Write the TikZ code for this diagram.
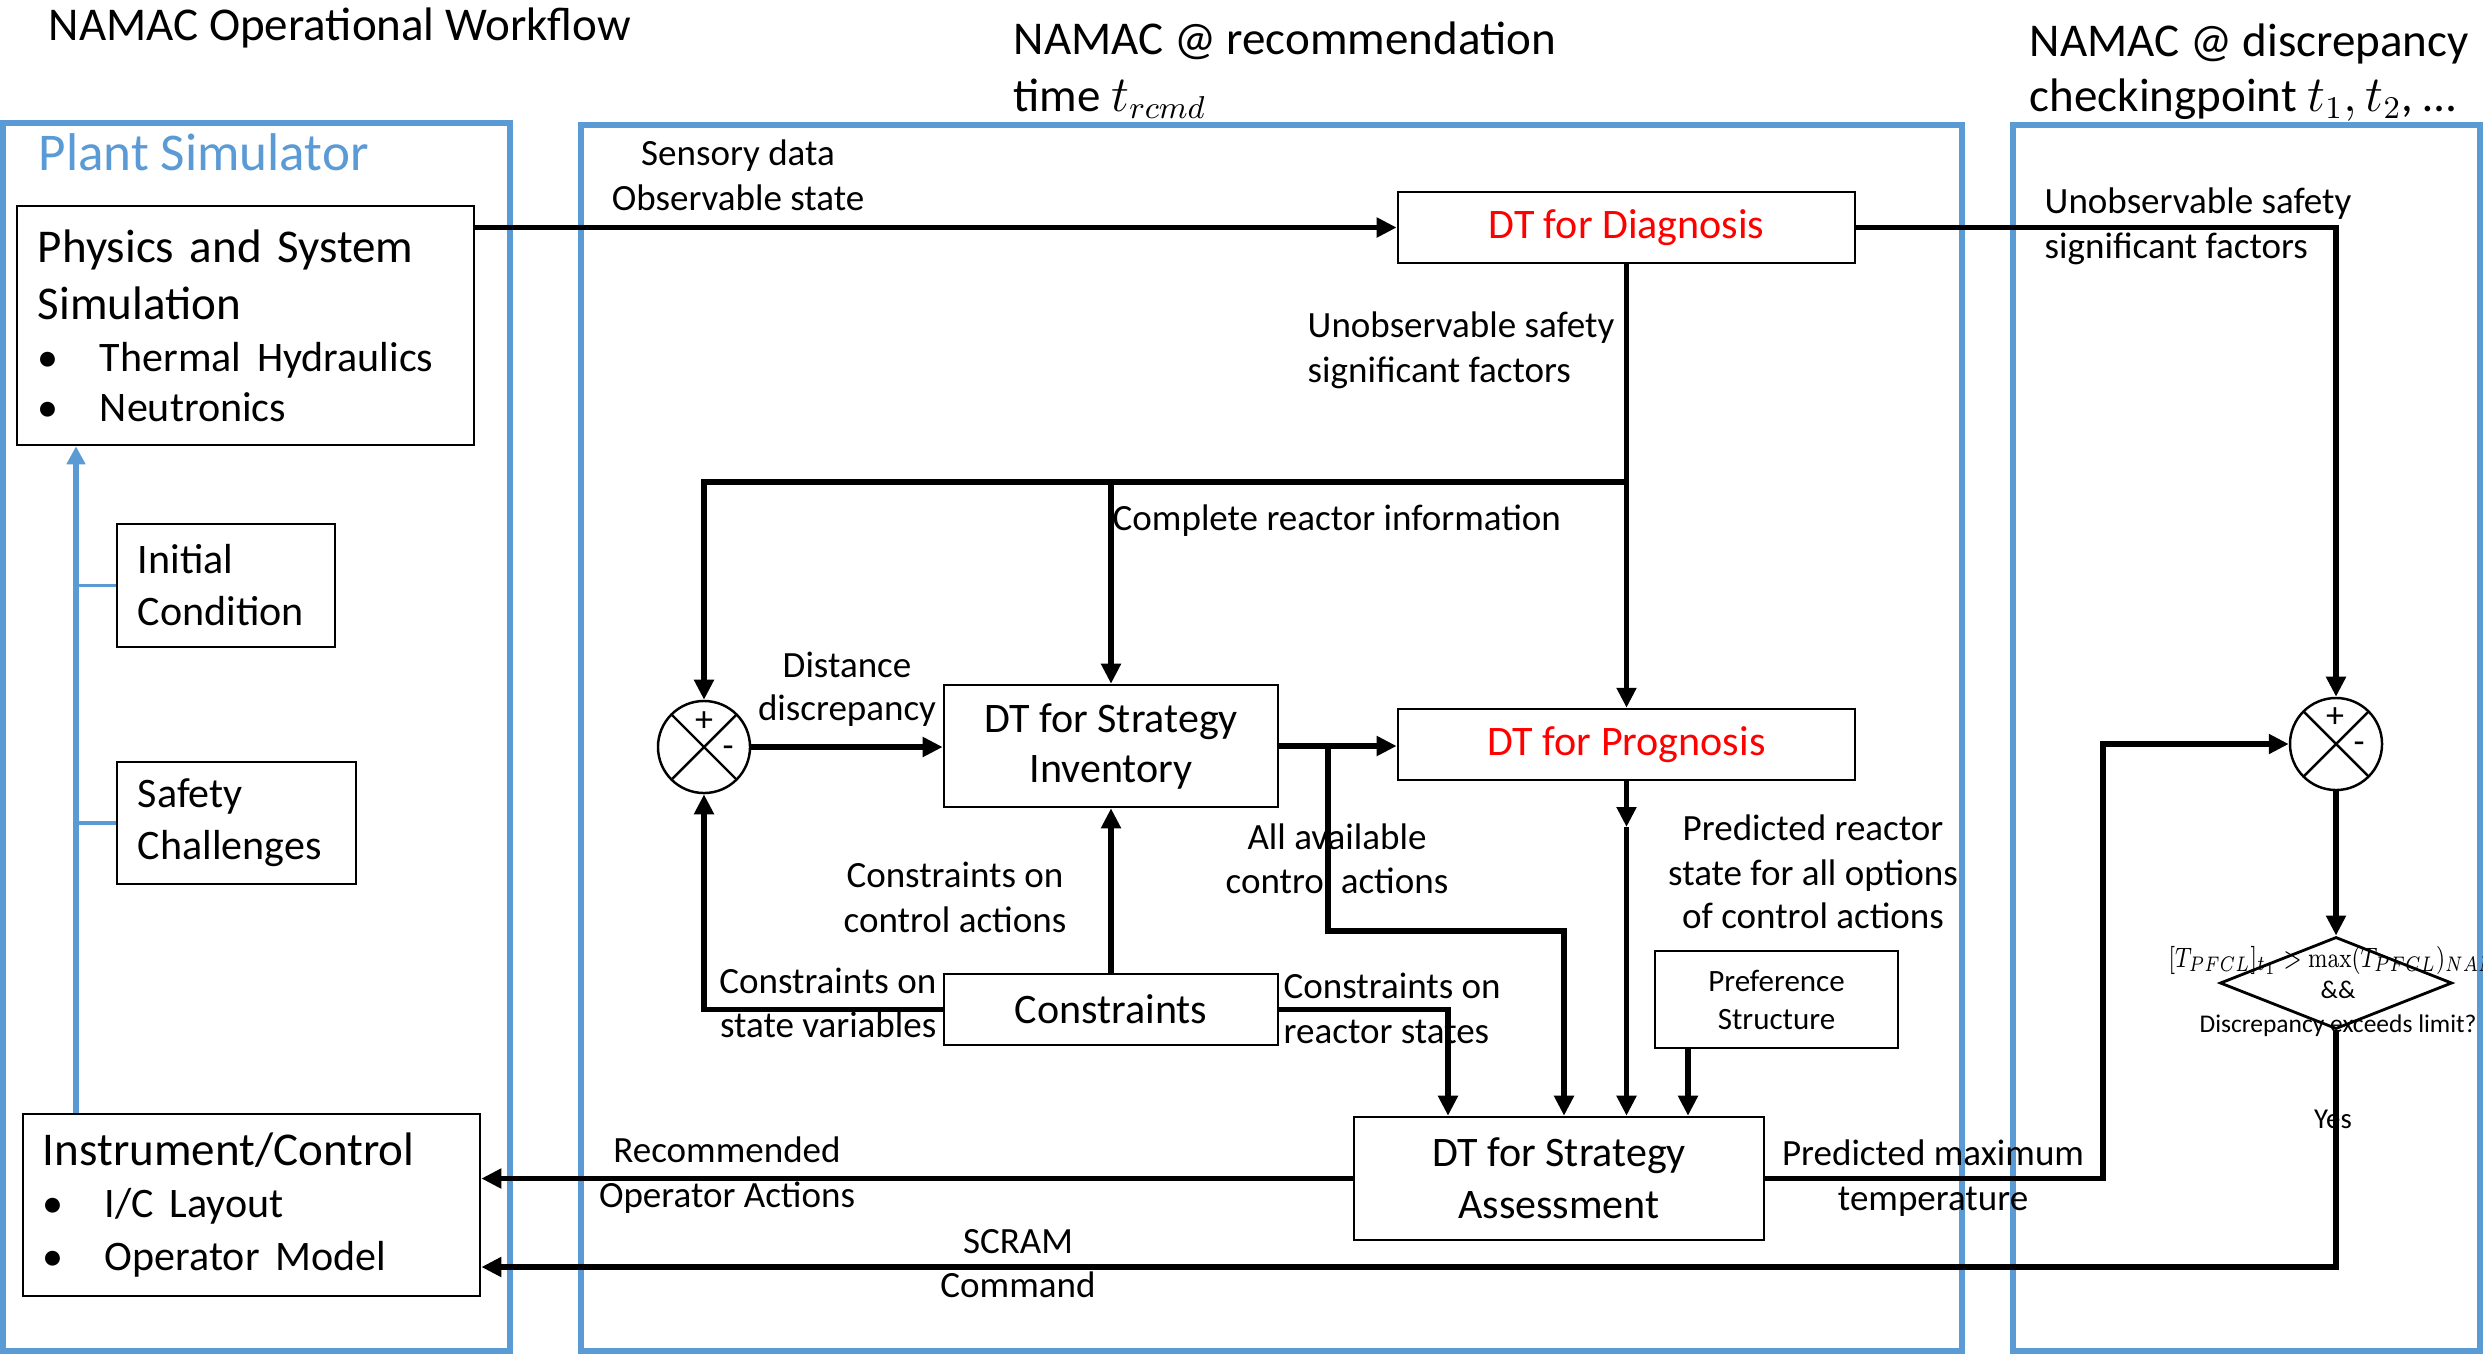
\documentclass[tikz,border=0pt]{standalone}
\usepackage[no-math]{fontspec}
\usepackage{graphicx}
\setmainfont{Carlito}
\usetikzlibrary{arrows.meta,shapes.geometric}

\definecolor{panelblue}{RGB}{91,155,213}
\definecolor{dtred}{RGB}{255,0,0}

% font sizes (one picture unit = 0.01cm)
\newcommand{\fTitle}{\fontsize{13.37pt}{13.37pt}\selectfont}
\newcommand{\fPlant}{\fontsize{15.1pt}{15.1pt}\selectfont}
\newcommand{\fHead}{\fontsize{13.37pt}{14.23pt}\selectfont}
\newcommand{\fItem}{\fontsize{11.95pt}{14.23pt}\selectfont}
\newcommand{\fNode}{\fontsize{11.95pt}{14.80pt}\selectfont}
\newcommand{\fInv}{\fontsize{11.95pt}{14.23pt}\selectfont}
\newcommand{\fLbl}{\fontsize{10.53pt}{12.8pt}\selectfont}
\newcommand{\fPref}{\fontsize{8.82pt}{10.81pt}\selectfont}
\newcommand{\fDec}{\fontsize{7.25pt}{9.1pt}\selectfont}
\newcommand{\fDecMath}{\fontsize{7.97pt}{9.1pt}\selectfont}
\newcommand{\fYes}{\fontsize{8.2pt}{9.1pt}\selectfont}
\newcommand{\fSign}{\fontsize{10.24pt}{10.24pt}\selectfont}
\newcommand{\bul}{\makebox[0.62cm][l]{\textbullet}}

\begin{document}
\begin{tikzpicture}[x=0.01cm,y=-0.01cm,
  box/.style={draw,line width=0.7pt,inner sep=0pt,align=center},
  conn/.style={line width=1.45pt},
  arr/.style={conn,-{Triangle[length=0.2cm,width=0.19cm]}},
  panel/.style={draw=panelblue,line width=1.56pt},
  bluearr/.style={draw=panelblue,line width=1.7pt,-{Triangle[length=0.18cm,width=0.18cm]}},
  blueline/.style={draw=panelblue,line width=1.1pt},
  lbl/.style={inner sep=0pt,font=\fLbl},
  ttl/.style={inner sep=0pt,font=\fTitle,anchor=base west},
  sumjunction/.style={circle,draw,line width=0.7pt,minimum size=0.92cm,inner sep=0pt,
    path picture={\draw[line width=0.7pt]
      (path picture bounding box.north west) -- (path picture bounding box.south east)
      (path picture bounding box.north east) -- (path picture bounding box.south west);}},
  signtxt/.style={inner sep=0pt,font=\fSign,anchor=base},
]
\useasboundingbox (0,0) rectangle (2483,1354);
\fill[white] (0,0) rectangle (2483,1354);

% ---------- section frames ----------
\draw[panel] (3,123) rectangle (510,1351);
\draw[panel] (581,125) rectangle (1962,1351);
\draw[panel] (2013,125) rectangle (2480,1351);

% ---------- headings ----------
\node[ttl] (ttlA)  at (48,40)    {NAMAC Operational Workflow};
\node[ttl] (ttlB1) at (1013,54)  {NAMAC @ recommendation};
\node[ttl] (ttlB2) at (1013,111) {time $t_{rcmd}$};
\node[ttl] (ttlC1) at (2029,56)  {NAMAC @ discrepancy};
\node[ttl] (ttlC2) at (2029,111) {checkingpoint $t_1, t_2$, …};

% ---------- plant simulator ----------
\node[inner sep=0pt,font=\fPlant,text=panelblue,anchor=base west] (plant) at (38,170) {Plant Simulator};

\node[box,minimum width=4.57cm,minimum height=2.39cm,text width=4.15cm,align=left,font=\fHead]
  (phys) at (245.5,325.5)
  {Physics and System\\[0.07cm]Simulation\\[0.02cm]{\fItem\bul Thermal Hydraulics}\\{\fItem\bul Neutronics}};
\node[box,minimum width=2.18cm,minimum height=1.23cm,text width=1.76cm,align=left,font=\fNode]
  (init) at (226,585.5) {Initial\\Condition};
\node[box,minimum width=2.39cm,minimum height=1.22cm,text width=1.97cm,align=left,font=\fNode]
  (safe) at (236.5,823) {Safety\\Challenges};
\node[box,minimum width=4.57cm,minimum height=1.82cm,text width=4.17cm,align=left,font=\fHead]
  (instr) at (251.5,1205)
  {Instrument/Control\\[0.02cm]{\fItem\bul I/C Layout}\\[0.02cm]{\fItem\bul Operator Model}};

\coordinate (bx) at (76,0);
\draw[bluearr] (instr.north -| bx) -- (phys.south -| bx);
\draw[blueline] (bx |- init.west) -- (init.west);
\draw[blueline] (bx |- safe.west) -- (safe.west);

% ---------- digital twins ----------
\node[box,minimum width=4.57cm,minimum height=0.71cm,font=\fNode,text=dtred] (diag) at (1626.5,227.5) {DT for Diagnosis};
\node[box,minimum width=4.57cm,minimum height=0.71cm,font=\fNode,text=dtred] (prog) at (1626.5,744.5) {DT for Prognosis};
\node[box,minimum width=3.34cm,minimum height=1.22cm,font=\fInv] (inv) at (1111,746) {DT for Strategy\\Inventory};
\node[box,minimum width=3.34cm,minimum height=0.71cm,font=\fNode] (cons) at (1111,1009.5) {Constraints};
\node[box,minimum width=4.10cm,minimum height=1.23cm,font=\fNode] (asmt) at (1559,1178.5) {DT for Strategy\\Assessment};
\node[box,minimum width=2.43cm,minimum height=0.97cm,font=\fPref] (pref) at (1776.5,999.5) {Preference\\Structure};

\node[sumjunction] (sjL) at (704,747) {};
\node[sumjunction] (sjR) at (2336,744) {};
\node[signtxt] (sjLp) at (704,731) {+};
\node[signtxt] (sjLm) at (728,757) {-};
\node[signtxt] (sjRp) at (2335,727) {+};
\node[signtxt] (sjRm) at (2359,753) {-};

\node[diamond,draw,line width=0.8pt,minimum width=2.32cm,minimum height=0.92cm,inner sep=0pt] (dec) at (2336,983) {};

% ---------- connectors ----------
\coordinate (hb)  at (0,482);
\coordinate (br)  at (1328,931);
\coordinate (bx2) at (1564,931);
\coordinate (pm)  at (1626.5,827);
\coordinate (cx)  at (1448,0);
\coordinate (px)  at (1688,0);
\coordinate (rx)  at (2103,0);
\coordinate (sy)  at (0,1267);

\draw[arr] (phys.east |- diag.west) -- (diag.west);
\draw[arr] (diag.south) -- (prog.north);
\draw[arr] (diag.south |- hb) -| (sjL.north);
\draw[arr] (inv.north |- hb) -- (inv.north);
\draw[arr] (sjL.east) -- (sjL.east -| inv.west);
\draw[arr] (inv.east) -- (inv.east -| prog.west);
\draw[arr] (inv.east -| br) -- (br) -- (bx2) -- (bx2 |- asmt.north);
\draw[arr] (prog.south) -- (pm);
\draw[arr] (pm) -- (pm |- asmt.north);
\draw[arr] (cons.north) -- (inv.south);
\draw[arr] (cons.west) -| (sjL.south);
\draw[arr] (cons.east) -| (cx |- asmt.north);
\draw[arr] (pref.south -| px) -- (px |- asmt.north);
\draw[arr] (asmt.west) -- (asmt.west -| instr.east);
\draw[arr] (asmt.east) -| (rx |- sjR.west) -- (sjR.west);
\draw[arr] (diag.east) -| (sjR.north);
\draw[arr] (sjR.south) -- (dec.north);
\draw[arr] (dec.south) -- (dec.south |- sy) -- (instr.east |- sy);

% ---------- connector labels ----------
\node[lbl,anchor=base] (lSens1) at (738,165) {Sensory data};
\node[lbl,anchor=base] (lSens2) at (738,210) {Observable state};
\node[lbl,anchor=base west] (lUno1) at (1307,337) {Unobservable safety};
\node[lbl,anchor=base west] (lUno2) at (1307,382) {significant factors};
\node[lbl,anchor=base west] (lCompl) at (1112,530) {Complete reactor information};
\node[lbl,anchor=base] (lDist1) at (847,677) {Distance};
\node[lbl,anchor=base] (lDist2) at (847,720) {discrepancy};
\node[lbl,anchor=base] (lCca1) at (955,887) {Constraints on};
\node[lbl,anchor=base] (lCca2) at (955,932) {control actions};
\node[lbl,anchor=base east] (lCsv1) at (937,993) {Constraints on};
\node[lbl,anchor=base east] (lCsv2) at (937,1037) {state variables};
\node[lbl,anchor=base west] (lCrs1) at (1283,998) {Constraints on};
\node[lbl,anchor=base west] (lCrs2) at (1283,1043) {reactor states};
\node[lbl,anchor=base] (lAll1) at (1337,849) {All available};
\node[lbl,anchor=base] (lAll2) at (1337,893) {control actions};
\node[lbl,anchor=base] (lPred1) at (1813,840) {Predicted reactor};
\node[lbl,anchor=base] (lPred2) at (1813,885) {state for all options};
\node[lbl,anchor=base] (lPred3) at (1813,928) {of control actions};
\node[lbl,anchor=base] (lRec1) at (727,1162) {Recommended};
\node[lbl,anchor=base] (lRec2) at (727,1207) {Operator Actions};
\node[lbl,anchor=base] (lMax1) at (1933,1165) {Predicted maximum};
\node[lbl,anchor=base] (lMax2) at (1933,1210) {temperature};
\node[lbl,anchor=base] (lScr1) at (1018,1253) {SCRAM};
\node[lbl,anchor=base] (lScr2) at (1018,1297) {Command};
\node[lbl,anchor=base west] (lUnoR1) at (2044,213) {Unobservable safety};
\node[lbl,anchor=base west] (lUnoR2) at (2044,258) {significant factors};
\node[inner sep=0pt,font=\fYes,anchor=base] (lYes) at (2333,1128) {Yes};

% ---------- decision text ----------
\node[inner sep=0pt,font=\fDecMath,anchor=base west] (dec1) at (2168,967)
  {\scalebox{0.78}[1]{$[T_{PFCL}]_{t_1} > \max(T_{PFCL})_{NAMAC}$}};
\node[inner sep=0pt,font=\fDec,anchor=base] (dec2) at (2338,998) {\&\&};
\node[inner sep=0pt,font=\fDec,anchor=base] (dec3) at (2338,1032) {Discrepancy exceeds limit?};
\end{tikzpicture}
\end{document}
